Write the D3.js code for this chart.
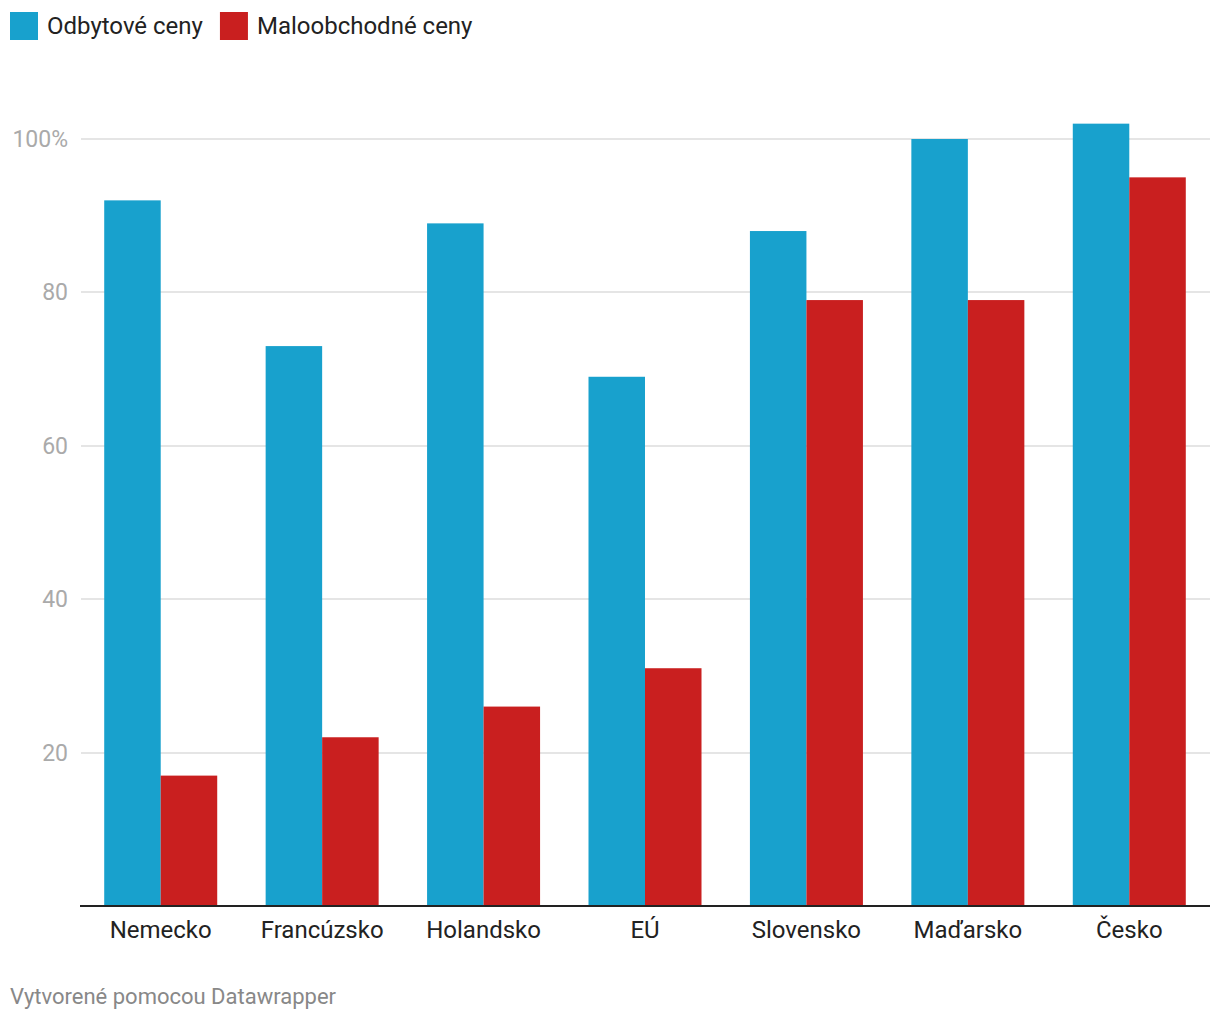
<!DOCTYPE html>
<html lang="sk">
<head>
  <meta charset="UTF-8">
  <title>Ceny</title>
  <style>
    body { margin: 0; background: #fff; font-family: Roboto, sans-serif; }
    svg { display: block; }
    .grid line { stroke: #e5e5e5; stroke-width: 1.5; shape-rendering: crispEdges; }
    .ytick { fill: #aaa; font-size: 23px; }
    .xlab { fill: #222; font-size: 24px; }
    .legend text { fill: #222; font-size: 24px; }
    .footer { fill: #888; font-size: 22px; }
  </style>
</head>
<body>
  <div id="chart"></div>

  <script src="https://d3js.org/d3.v7.min.js"></script>
  <script>
    const categories = ['Nemecko', 'Francúzsko', 'Holandsko', 'EÚ', 'Slovensko', 'Maďarsko', 'Česko'];
    const seriesNames = ['Odbytové ceny', 'Maloobchodné ceny'];
    const odbytove = [92, 73, 89, 69, 88, 100, 102];
    const maloobchodne = [17, 22, 26, 31, 79, 79, 95];
    const yTicks = [20, 40, 60, 80, 100];
    const colors = ['#18a1cd', '#c91f1f'];

    (function () {
      const width = 1220, height = 1020;
      const left = 80, right = 1210, top = 139, bottom = 906;

      const svg = d3.select('#chart').append('svg')
        .attr('width', width).attr('height', height);

      const x = d3.scaleBand().domain(categories).range([left, right]).paddingInner(0.3).paddingOuter(0.15);
      const xs = d3.scaleBand().domain(seriesNames).range([0, x.bandwidth()]);
      const y = d3.scaleLinear().domain([0, 100]).range([bottom, top]);

      // grid
      const grid = svg.append('g').classed('grid', true);
      grid.selectAll('line').data(yTicks).enter().append('line')
        .attr('x1', left + 1).attr('x2', right)
        .attr('y1', d => Math.round(y(d))).attr('y2', d => Math.round(y(d)));

      svg.append('g').selectAll('text').data(yTicks).enter().append('text')
        .classed('ytick', true)
        .attr('x', 68).attr('y', d => y(d))
        .attr('dy', '0.35em').attr('text-anchor', 'end')
        .text(d => d === 100 ? '100%' : d);

      // bars
      const rows = categories.map((c, i) => ({ c, vals: [odbytove[i], maloobchodne[i]] }));
      const groups = svg.append('g').selectAll('g').data(rows).enter().append('g')
        .attr('transform', d => `translate(${x(d.c)},0)`);
      groups.selectAll('rect').data(d => d.vals.map((v, k) => ({ v, k })))
        .enter().append('rect')
        .attr('x', d => xs(seriesNames[d.k]))
        .attr('width', xs.bandwidth())
        .attr('y', d => y(d.v))
        .attr('height', d => y(0) - y(d.v))
        .attr('fill', d => colors[d.k]);

      // baseline
      svg.append('line')
        .attr('x1', left).attr('x2', right)
        .attr('y1', bottom).attr('y2', bottom)
        .attr('stroke', '#222').attr('stroke-width', 2);

      svg.append('g').selectAll('text').data(categories).enter().append('text')
        .classed('xlab', true)
        .attr('x', d => x(d) + x.bandwidth() / 2)
        .attr('y', 938)
        .attr('text-anchor', 'middle')
        .text(d => d);

      // legend
      const legend = svg.append('g').classed('legend', true);
      let lx = 10;
      seriesNames.forEach((name, k) => {
        legend.append('rect').attr('x', lx).attr('y', 12).attr('width', 28).attr('height', 28).attr('fill', colors[k]);
        const t = legend.append('text').attr('x', lx + 37).attr('y', 34).text(name);
        lx += 37 + t.node().getComputedTextLength() + 17;
      });

      svg.append('text').classed('footer', true)
        .attr('x', 10).attr('y', 1004)
        .text('Vytvorené pomocou Datawrapper');
    })();
  </script>
</body>
</html>
